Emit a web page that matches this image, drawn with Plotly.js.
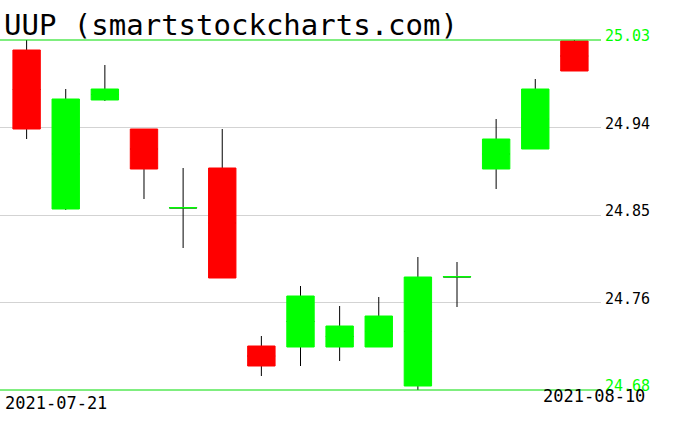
<!DOCTYPE html>
<html>
<head>
<meta charset="utf-8">
<script src="https://cdn.plot.ly/plotly-3.0.1.min.js"></script>
<style>html,body{margin:0;padding:0;background:#fff;}#chart{width:676px;height:431px;}</style>
</head>
<body>
<div id="chart"></div>
<script>
var dates = ["2021-07-21","2021-07-22","2021-07-23","2021-07-26","2021-07-27","2021-07-28","2021-07-29","2021-07-30","2021-08-02","2021-08-03","2021-08-04","2021-08-05","2021-08-06","2021-08-09","2021-08-10"];
var openV  = [25.020, 24.861, 24.970, 24.941, 24.862, 24.902, 24.724, 24.723, 24.723, 24.723, 24.684, 24.793, 24.901, 24.921, 25.029];
var highV  = [25.030, 24.981, 25.005, 24.941, 24.902, 24.941, 24.734, 24.784, 24.764, 24.773, 24.813, 24.808, 24.951, 24.991, 25.030];
var lowV   = [24.931, 24.860, 24.969, 24.871, 24.822, 24.792, 24.694, 24.704, 24.709, 24.723, 24.680, 24.763, 24.881, 24.921, 24.999];
var closeV = [24.941, 24.971, 24.981, 24.901, 24.8625, 24.792, 24.704, 24.774, 24.744, 24.754, 24.793, 24.7935, 24.931, 24.981, 24.999];
var yMin = 24.68, yMax = 25.03;
var tickLabels = ["24.68","24.76","24.85","24.94","25.03"];
var titleText = "UUP (smartstockcharts.com)";

var tickVals = tickLabels.map(function(_, i){ return yMin + i*(yMax - yMin)/4; });
var gridVals = tickVals.slice(1, 4);
var bodyHigh = openV.map(function(o, i){ return Math.max(o, closeV[i]); });
var bodyLow = openV.map(function(o, i){ return Math.min(o, closeV[i]); });
var bodyMid = openV.map(function(o, i){ return (o + closeV[i]) / 2; });

var GREEN = "#00ff00", RED = "#ff0000", LINEG = "#00dd00";

// wick-only trace: its box collapses to the body middle and is hidden under the body trace
var wicks = {
  type: "candlestick", x: dates, open: bodyMid, high: highV, low: lowV, close: bodyMid,
  increasing: {line: {color: "#000000", width: 1}, fillcolor: "rgba(0,0,0,0)"},
  decreasing: {line: {color: "#000000", width: 1}, fillcolor: "rgba(0,0,0,0)"},
  whiskerwidth: 0, hoverinfo: "skip", showlegend: false
};
var bodies = {
  type: "candlestick", x: dates, open: openV, high: bodyHigh, low: bodyLow, close: closeV,
  increasing: {line: {color: GREEN, width: 1}, fillcolor: GREEN},
  decreasing: {line: {color: RED, width: 1}, fillcolor: RED},
  whiskerwidth: 0, hoverinfo: "skip", showlegend: false
};

var annotations = tickLabels.map(function(t, i){
  return {xref: "paper", yref: "y", x: 1, y: tickVals[i], text: t, showarrow: false,
    xanchor: "left", yanchor: "middle", xshift: 2, yshift: 4,
    font: {family: "DejaVu Sans Mono", size: 15, color: (i === 4 || i === 0) ? GREEN : "#000000"}};
});
annotations.push({xref: "paper", yref: "paper", x: 0, y: 0, text: dates[0], showarrow: false,
  xanchor: "left", yanchor: "top", xshift: 3, yshift: -1,
  font: {family: "DejaVu Sans Mono", size: 17, color: "#000000"}});
annotations.push({xref: "paper", yref: "paper", x: 1, y: 0, text: dates[dates.length-1], showarrow: false,
  xanchor: "right", yanchor: "middle", xshift: 46, yshift: -6,
  font: {family: "DejaVu Sans Mono", size: 17, color: "#000000"}});
annotations.push({xref: "paper", yref: "paper", x: 0, y: 1, text: titleText, showarrow: false,
  xanchor: "left", yanchor: "bottom", xshift: 2, yshift: -4,
  font: {family: "DejaVu Sans Mono", size: 29, color: "#000000"}});

var layout = {
  width: 676, height: 431,
  margin: {l: 0, r: 75, t: 40, b: 41},
  paper_bgcolor: "#ffffff", plot_bgcolor: "#ffffff",
  showlegend: false,
  boxgap: 0.0,
  xaxis: {type: "category", range: [-0.68, 14.68], showgrid: false, showticklabels: false,
    zeroline: false, showline: false, ticks: "", rangeslider: {visible: false}, fixedrange: true},
  yaxis: {range: [yMin, yMax], tickvals: gridVals, showticklabels: false, showgrid: true,
    gridcolor: "#d3d3d3", gridwidth: 1, zeroline: false, showline: false, ticks: "", fixedrange: true},
  shapes: [
    {type: "line", xref: "paper", yref: "paper", x0: 0, x1: 1, y0: 1, y1: 1, line: {color: LINEG, width: 1}},
    {type: "line", xref: "paper", yref: "paper", x0: 0, x1: 1, y0: 0, y1: 0, line: {color: LINEG, width: 1}}
  ],
  annotations: annotations
};

Plotly.newPlot("chart", [wicks, bodies], layout, {displayModeBar: false, staticPlot: true});
</script>
</body>
</html>
